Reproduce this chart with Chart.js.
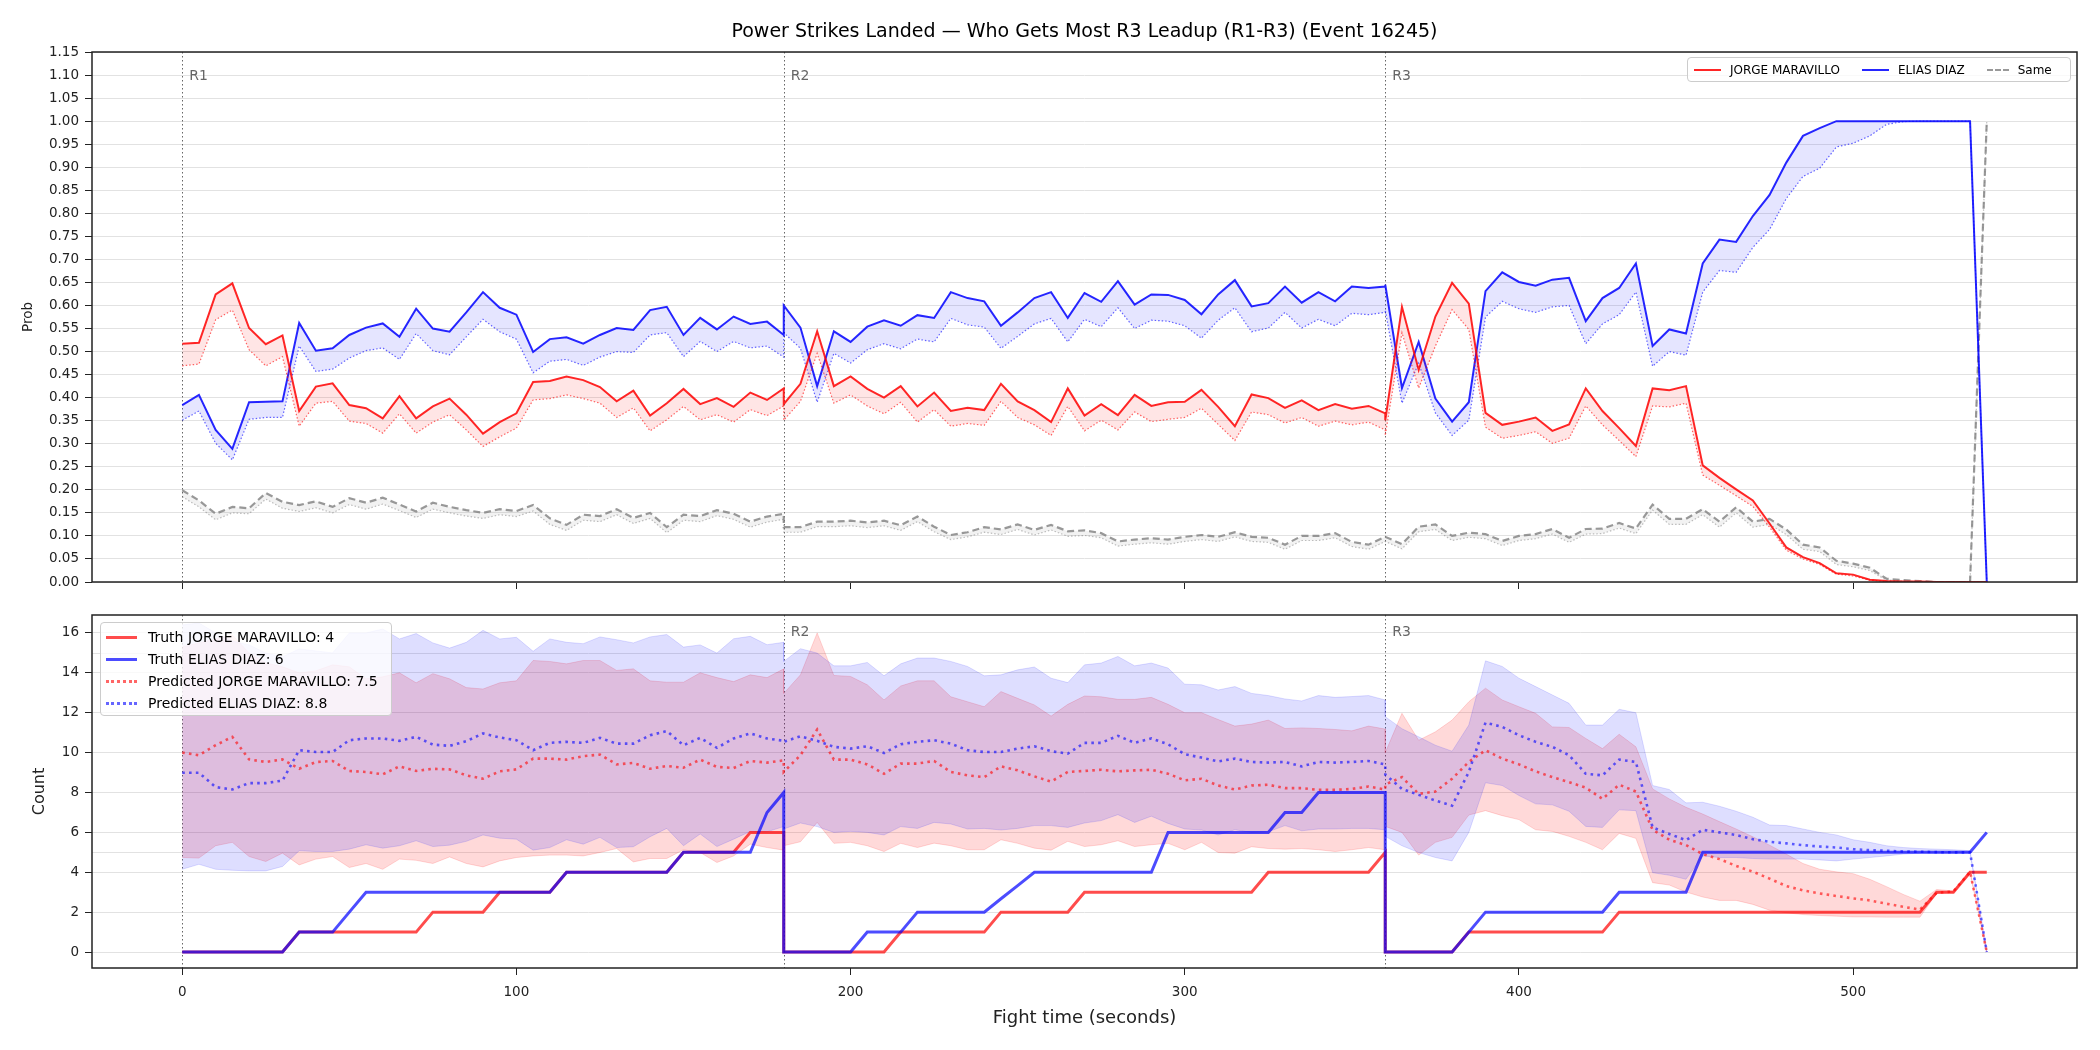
<!DOCTYPE html>
<html>
<head>
<meta charset="utf-8">
<script src="https://cdn.jsdelivr.net/npm/chart.js@4.4.1/dist/chart.umd.min.js"></script>
<style>
body{margin:0;background:#fff;font-family:"DejaVu Sans",sans-serif;}
#wrap{position:relative;width:2100px;height:1050px;overflow:hidden;}
canvas{position:absolute;left:0;}
#title{position:absolute;left:0;width:2169px;top:20px;text-align:center;font-size:19px;line-height:21px;color:#000;}
.legend{position:absolute;background:rgba(255,255,255,0.8);border:1px solid #ccc;border-radius:4px;box-sizing:border-box;color:#000;}
#topLegend{left:1687px;top:57px;width:384px;height:25px;font-size:12px;display:flex;align-items:center;padding-left:6px;}
#topLegend .item{display:flex;align-items:center;margin-right:22px;}
#topLegend .item:last-child{margin-right:0;}
#topLegend .sw{width:27px;height:0;margin-right:9px;}
#botLegend{left:100px;top:622px;width:292px;height:94px;font-size:14px;padding:3px 0 0 5px;}
#botLegend .item{display:flex;align-items:center;height:22px;}
#botLegend .sw{width:31px;height:0;margin-right:11px;}
</style>
</head>
<body>
<div id="wrap">
<canvas id="probChart" width="2100" height="600" style="top:0"></canvas>
<canvas id="countChart" width="2100" height="450" style="top:600px"></canvas>
<div id="title">Power Strikes Landed — Who Gets Most R3 Leadup (R1-R3) (Event 16245)</div>
<div id="topLegend" class="legend">
<div class="item"><div class="sw" style="border-top:2px solid rgba(255,0,0,0.85)"></div>JORGE MARAVILLO</div>
<div class="item"><div class="sw" style="border-top:2px solid rgba(0,0,255,0.85)"></div>ELIAS DIAZ</div>
<div class="item"><div class="sw" style="width:22px;border-top:2px dashed rgba(128,128,128,0.8)"></div>Same</div>
</div>
<div id="botLegend" class="legend">
<div class="item"><div class="sw" style="border-top:3px solid rgba(255,0,0,0.7)"></div>Truth JORGE MARAVILLO: 4</div>
<div class="item"><div class="sw" style="border-top:3px solid rgba(0,0,255,0.7)"></div>Truth ELIAS DIAZ: 6</div>
<div class="item"><div class="sw" style="border-top:3px dotted rgba(255,0,0,0.6)"></div>Predicted JORGE MARAVILLO: 7.5</div>
<div class="item"><div class="sw" style="border-top:3px dotted rgba(0,0,255,0.6)"></div>Predicted ELIAS DIAZ: 8.8</div>
</div>
</div>
<script>
Chart.defaults.font.family = "'DejaVu Sans', sans-serif";
Chart.defaults.color = "#222";

// fight time, seconds (each round restarts at its boundary)
const times = [
0,5,10,15,20,25,30,35,40,45,50,55,60,65,70,75,80,85,90,95,100,105,110,115,120,125,130,135,140,145,150,155,160,165,170,175,180,
180,185,190,195,200,205,210,215,220,225,230,235,240,245,250,255,260,265,270,275,280,285,290,295,300,305,310,315,320,325,330,335,340,345,350,355,360,
360,365,370,375,380,385,390,395,400,405,410,415,420,425,430,435,440,445,450,455,460,465,470,475,480,485,490,495,500,505,510,515,520,525,530,535,540
];
const roundStarts = [0, 180, 360];
const roundNames = ["R1", "R2", "R3"];
const timeTicks = [0, 100, 200, 300, 400, 500];
const probTicks = [0,0.05,0.1,0.15,0.2,0.25,0.3,0.35,0.4,0.45,0.5,0.55,0.6,0.65,0.7,0.75,0.8,0.85,0.9,0.95,1,1.05,1.1,1.15];
const countTicks = [0,2,4,6,8,10,12,14,16];

// top panel: probabilities
const probRed = [
0.517,0.519,0.624,0.648,0.551,0.516,0.535,0.371,0.424,0.431,0.384,0.377,0.355,0.403,0.355,0.381,0.398,0.363,0.322,0.347,0.366,0.434,0.436,0.446,0.438,0.423,0.392,0.415,0.361,0.388,0.419,0.386,0.399,0.380,0.411,0.395,0.420,
0.386,0.430,0.544,0.425,0.446,0.419,0.400,0.425,0.381,0.411,0.371,0.378,0.373,0.430,0.392,0.373,0.347,0.420,0.361,0.386,0.362,0.406,0.382,0.390,0.391,0.417,0.380,0.338,0.407,0.399,0.378,0.394,0.373,0.386,0.376,0.382,0.366,
0.351,0.597,0.460,0.576,0.649,0.604,0.367,0.341,0.348,0.357,0.328,0.342,0.420,0.371,0.334,0.295,0.420,0.416,0.425,0.253,0.226,0.201,0.177,0.127,0.075,0.054,0.041,0.019,0.016,0.005,0.002,0.001,0.001,0,0,0,0
];
const probRedLow = [
0.469,0.473,0.569,0.590,0.504,0.469,0.489,0.338,0.388,0.392,0.349,0.344,0.323,0.365,0.323,0.347,0.363,0.330,0.294,0.315,0.334,0.395,0.398,0.406,0.398,0.388,0.357,0.378,0.328,0.352,0.381,0.352,0.363,0.347,0.374,0.361,0.382,
0.351,0.392,0.496,0.388,0.406,0.382,0.365,0.390,0.347,0.374,0.338,0.344,0.340,0.392,0.357,0.341,0.318,0.381,0.328,0.351,0.330,0.369,0.348,0.353,0.357,0.377,0.342,0.307,0.369,0.363,0.345,0.357,0.338,0.349,0.341,0.347,0.330,
0.318,0.541,0.421,0.512,0.591,0.548,0.336,0.312,0.318,0.326,0.301,0.312,0.382,0.341,0.307,0.272,0.382,0.380,0.388,0.232,0.210,0.187,0.164,0.119,0.069,0.050,0.038,0.017,0.013,0.004,0.001,0,0,0,0,0,0
];
const probBlue = [
0.384,0.406,0.330,0.289,0.390,0.391,0.392,0.562,0.502,0.507,0.536,0.552,0.561,0.532,0.593,0.550,0.543,0.585,0.629,0.595,0.580,0.499,0.527,0.531,0.517,0.536,0.551,0.547,0.590,0.597,0.536,0.573,0.548,0.576,0.560,0.565,0.536,
0.600,0.552,0.425,0.544,0.521,0.554,0.568,0.556,0.579,0.573,0.629,0.616,0.609,0.556,0.585,0.616,0.629,0.573,0.627,0.608,0.653,0.602,0.624,0.623,0.612,0.581,0.624,0.655,0.598,0.605,0.641,0.606,0.629,0.609,0.641,0.638,0.641,
0.645,0.421,0.521,0.398,0.348,0.390,0.631,0.672,0.651,0.643,0.656,0.660,0.566,0.616,0.638,0.691,0.512,0.548,0.539,0.691,0.743,0.738,0.794,0.840,0.910,0.968,0.985,1,1,1,1,1,1,1,1,1,0
];
const probBlueLow = [
0.351,0.371,0.301,0.265,0.353,0.357,0.357,0.512,0.457,0.462,0.486,0.502,0.508,0.483,0.539,0.502,0.493,0.532,0.570,0.543,0.527,0.454,0.479,0.483,0.470,0.488,0.500,0.498,0.536,0.541,0.489,0.522,0.500,0.522,0.508,0.512,0.488,
0.541,0.507,0.390,0.496,0.475,0.504,0.517,0.506,0.527,0.521,0.572,0.558,0.553,0.507,0.533,0.560,0.572,0.521,0.570,0.554,0.595,0.550,0.568,0.566,0.556,0.529,0.568,0.595,0.543,0.551,0.585,0.551,0.570,0.556,0.583,0.580,0.585,
0.590,0.388,0.475,0.367,0.318,0.351,0.575,0.609,0.593,0.585,0.597,0.600,0.517,0.560,0.580,0.629,0.468,0.500,0.492,0.629,0.676,0.672,0.726,0.765,0.832,0.880,0.898,0.944,0.952,0.968,0.993,0.999,1,1,1,1,0
];
const probSame = [
0.199,0.177,0.148,0.163,0.160,0.193,0.174,0.167,0.175,0.163,0.182,0.172,0.183,0.168,0.153,0.172,0.163,0.156,0.150,0.158,0.154,0.167,0.138,0.124,0.146,0.143,0.158,0.139,0.150,0.119,0.146,0.143,0.156,0.148,0.131,0.142,0.148,
0.119,0.119,0.131,0.131,0.133,0.129,0.133,0.123,0.142,0.120,0.102,0.108,0.119,0.114,0.125,0.113,0.124,0.110,0.112,0.106,0.088,0.092,0.095,0.092,0.098,0.102,0.098,0.108,0.098,0.096,0.081,0.100,0.100,0.106,0.087,0.081,0.098,
0.098,0.082,0.120,0.125,0.100,0.107,0.104,0.089,0.100,0.104,0.115,0.096,0.115,0.116,0.128,0.116,0.168,0.137,0.137,0.158,0.131,0.162,0.131,0.137,0.114,0.081,0.075,0.046,0.040,0.031,0.007,0.004,0.002,0,0,0,1
];
const probSameLow = [
0.185,0.163,0.135,0.150,0.148,0.180,0.160,0.153,0.161,0.150,0.168,0.158,0.169,0.155,0.140,0.158,0.150,0.143,0.138,0.146,0.142,0.154,0.125,0.112,0.134,0.131,0.146,0.127,0.138,0.107,0.134,0.131,0.144,0.136,0.119,0.130,0.136,
0.108,0.108,0.120,0.120,0.122,0.118,0.122,0.112,0.131,0.109,0.092,0.098,0.108,0.103,0.114,0.102,0.113,0.099,0.101,0.096,0.078,0.082,0.085,0.082,0.088,0.092,0.088,0.098,0.088,0.086,0.071,0.090,0.090,0.096,0.077,0.071,0.088,
0.088,0.072,0.109,0.114,0.090,0.097,0.094,0.079,0.090,0.094,0.104,0.086,0.104,0.105,0.117,0.105,0.156,0.125,0.125,0.146,0.119,0.150,0.119,0.125,0.103,0.071,0.066,0.038,0.033,0.025,0.004,0.002,0.001,0,0,0,1
];

// bottom panel: counts
const truthRed = [
0,0,0,0,0,0,0,1,1,1,1,1,1,1,1,2,2,2,2,3,3,3,3,4,4,4,4,4,4,4,5,5,5,5,6,6,6,
0,0,0,0,0,0,0,1,1,1,1,1,1,2,2,2,2,2,3,3,3,3,3,3,3,3,3,3,3,4,4,4,4,4,4,4,5,
0,0,0,0,0,1,1,1,1,1,1,1,1,1,2,2,2,2,2,2,2,2,2,2,2,2,2,2,2,2,2,2,2,3,3,4,4
];
const truthBlue = [
0,0,0,0,0,0,0,1,1,1,2,3,3,3,3,3,3,3,3,3,3,3,3,4,4,4,4,4,4,4,5,5,5,5,5,7,8,
0,0,0,0,0,1,1,1,2,2,2,2,2,2.67,3.33,4,4,4,4,4,4,4,4,6,6,6,6,6,6,6,7,7,8,8,8,8,8,
0,0,0,0,0,1,2,2,2,2,2,2,2,2,3,3,3,3,3,5,5,5,5,5,5,5,5,5,5,5,5,5,5,5,5,5,6
];
const predRed = [
10.0,9.87,10.37,10.79,9.66,9.53,9.66,9.19,9.53,9.58,9.08,9.03,8.91,9.31,9.08,9.19,9.16,8.86,8.69,9.06,9.16,9.70,9.70,9.65,9.82,9.90,9.41,9.48,9.19,9.33,9.24,9.65,9.28,9.23,9.58,9.50,9.61,
9.03,9.87,11.16,9.65,9.65,9.41,8.94,9.45,9.45,9.58,9.03,8.86,8.77,9.31,9.11,8.81,8.55,9.03,9.08,9.14,9.06,9.11,9.14,8.94,8.61,8.69,8.35,8.15,8.35,8.39,8.22,8.22,8.13,8.13,8.18,8.30,8.15,
8.4,8.77,7.93,8.05,8.69,9.53,10.12,9.70,9.41,9.06,8.77,8.52,8.24,7.68,8.39,8.05,6.13,5.63,5.36,4.91,4.66,4.32,4.03,3.68,3.31,3.09,2.94,2.81,2.69,2.59,2.42,2.27,2.13,2.97,3.04,4.02,0
];
const predBlue = [
8.99,8.99,8.27,8.15,8.47,8.47,8.6,10.12,10.03,10.03,10.62,10.71,10.71,10.59,10.79,10.4,10.34,10.57,10.96,10.76,10.62,10.12,10.49,10.54,10.49,10.74,10.45,10.45,10.87,11.08,10.37,10.74,10.24,10.71,10.96,10.71,10.59,
10.54,10.82,10.59,10.29,10.2,10.32,9.98,10.42,10.54,10.62,10.45,10.12,10.03,10.03,10.2,10.32,10.07,9.95,10.49,10.49,10.84,10.49,10.71,10.42,9.92,9.75,9.56,9.7,9.53,9.5,9.53,9.31,9.53,9.5,9.53,9.58,9.41,
8.9,8.18,7.88,7.6,7.34,9.03,11.5,11.29,10.87,10.54,10.29,9.87,8.94,8.86,9.65,9.53,6.25,5.92,5.61,6.13,6.0,5.87,5.66,5.53,5.45,5.36,5.29,5.24,5.16,5.11,5.08,5.04,5.03,5.01,5.0,5.0,0
];
const redHigh = [
15.3,15.5,15.7,15.9,15.0,14.5,14.3,14.0,14.1,14.4,14.3,13.7,13.8,14.0,13.5,13.96,13.7,13.26,13.19,13.5,13.6,14.62,14.57,14.45,14.62,14.62,14.12,14.2,13.6,13.53,13.53,14.0,13.76,13.56,13.9,13.76,14.2,
12.97,13.9,16.0,13.87,13.82,13.4,12.64,13.34,13.6,13.6,12.8,12.55,12.3,13.06,12.72,12.39,11.83,12.42,12.84,12.8,12.67,12.67,12.77,12.42,12.0,12.0,11.66,11.33,11.43,11.63,11.21,11.24,11.21,11.16,11.09,11.33,11.18,
10.0,11.97,10.62,11.04,11.63,12.55,13.23,12.64,12.3,11.97,11.29,11.26,10.71,10.2,10.92,10.29,8.18,7.68,7.26,6.92,6.54,6.17,5.78,5.36,4.91,4.44,4.15,4.02,3.93,3.65,3.28,2.89,2.55,3.14,3.06,4.07,0
];
const redLow = [
4.74,4.71,5.33,5.5,4.79,4.54,4.96,4.37,4.66,4.79,4.24,4.44,4.15,4.66,4.6,4.44,4.77,4.44,4.27,4.57,4.74,4.82,4.86,4.86,4.82,4.99,5.19,4.52,4.69,4.69,5.13,4.99,4.49,4.82,5.41,5.24,5.11,
5.33,5.53,6.5,5.45,5.5,5.33,5.04,5.45,5.24,5.46,5.33,5.13,5.13,5.63,5.45,5.21,5.11,5.55,5.29,5.38,5.58,5.29,5.38,5.45,5.13,5.5,4.99,4.96,5.28,5.19,5.16,5.19,5.13,5.04,5.13,5.24,5.13,
6.3,6.0,4.86,5.5,5.75,6.87,7.09,6.84,6.64,6.13,6.05,5.8,5.5,5.13,5.95,5.7,3.48,3.36,3.01,2.76,2.59,2.59,2.39,2.1,1.97,1.88,1.83,1.8,1.76,1.76,1.75,1.75,1.75,2.94,2.97,3.95,0
];
const blueHigh = [
16.4,16.5,16.0,15.6,15.4,15.0,14.8,15.2,15.1,15.0,16.0,16.0,16.2,15.7,15.97,15.5,15.24,15.53,16.13,15.7,15.78,15.08,15.7,15.53,15.46,15.8,15.66,15.5,15.8,15.92,15.29,15.4,14.99,15.71,15.83,15.41,15.53,
14.57,15.21,14.99,14.35,14.35,14.52,13.85,14.45,14.74,14.74,14.57,14.32,13.85,13.9,14.15,14.29,13.73,13.51,14.4,14.49,14.82,14.35,14.49,14.24,13.43,13.4,13.14,13.31,12.97,12.86,12.69,12.59,12.86,12.77,12.81,12.86,12.64,
11.8,11.2,10.79,10.37,10.07,11.38,14.6,14.32,13.73,13.31,12.89,12.47,11.38,11.38,12.17,12.0,8.35,8.15,7.48,7.51,7.31,7.06,6.76,6.37,6.34,6.17,6.0,5.87,5.63,5.5,5.33,5.24,5.19,5.16,5.13,5.08,0
];
const blueLow = [
4.15,4.4,4.15,4.1,4.07,4.07,4.29,5.08,5.04,5.04,5.16,5.38,5.21,5.33,5.58,5.29,5.36,5.55,5.87,5.71,5.66,5.11,5.24,5.63,5.41,5.75,5.24,5.28,5.78,6.2,5.33,5.92,5.29,5.66,6.05,6.03,6.29,
6.17,6.47,6.29,6.0,6.05,6.0,5.87,6.29,6.2,6.5,6.42,6.17,6.2,6.12,6.2,6.34,6.34,6.25,6.47,6.59,6.89,6.5,6.81,6.45,6.17,6.12,5.87,6.13,6.0,6.03,6.34,6.08,6.17,6.17,6.2,6.2,6.13,
5.8,5.33,4.99,4.74,4.57,6.0,8.49,8.35,7.85,7.43,7.38,7.06,6.3,6.25,7.13,7.09,3.98,3.85,3.65,4.82,4.74,4.74,4.69,4.66,4.66,4.66,4.62,4.57,4.66,4.74,4.82,4.91,4.96,4.96,4.96,4.96,0
];

const pts = ys => times.map((t, i) => ({x: t, y: ys[i]}));

const GRID = "#e2e2e2";

// round markers, frame and optional extra reference lines
const roundPlugin = {
  id: "rounds",
  beforeDatasetsDraw(chart, args, opts) {
    const {ctx, chartArea: a, scales: {x, y}} = chart;
    ctx.save();
    ctx.lineWidth = 1;
    ctx.strokeStyle = GRID;
    (opts.extra || []).forEach(v => {
      const py = Math.round(y.getPixelForValue(v)) + 0.5;
      ctx.beginPath(); ctx.moveTo(a.left, py); ctx.lineTo(a.right, py); ctx.stroke();
    });
    ctx.strokeStyle = "#666";
    ctx.setLineDash([1.5, 2.5]);
    roundStarts.forEach(r => {
      const px = Math.round(x.getPixelForValue(r)) + 0.5;
      ctx.beginPath(); ctx.moveTo(px, a.top); ctx.lineTo(px, a.bottom); ctx.stroke();
    });
    ctx.restore();
  },
  afterDraw(chart, args, opts) {
    const {ctx, chartArea: a, scales: {x}} = chart;
    ctx.save();
    ctx.fillStyle = "#666";
    ctx.font = "14px 'DejaVu Sans'";
    ctx.textBaseline = "top";
    roundStarts.forEach((r, i) => {
      if (opts.skip && opts.skip.includes(i)) return;
      ctx.fillText(roundNames[i], x.getPixelForValue(r) + 7, a.top + opts.labelY);
    });
    ctx.strokeStyle = "#222";
    ctx.lineWidth = 1.5;
    ctx.strokeRect(a.left, a.top, a.right - a.left, a.bottom - a.top);
    ctx.restore();
  }
};

const xBase = {
  type: "linear",
  min: -27,
  max: 567,
  afterBuildTicks: s => { s.ticks = timeTicks.map(v => ({value: v})); },
  border: {display: false}
};

new Chart(document.getElementById("probChart"), {
  type: "line",
  data: {
    datasets: [
      {data: pts(probRed), borderColor: "rgba(255,0,0,0.85)", borderWidth: 2, fill: false},
      {data: pts(probRedLow), borderColor: "rgba(255,0,0,0.6)", borderWidth: 1.2, borderDash: [1.5, 2], fill: "-1", backgroundColor: "rgba(255,0,0,0.1)"},
      {data: pts(probBlue), borderColor: "rgba(0,0,255,0.85)", borderWidth: 2, fill: false},
      {data: pts(probBlueLow), borderColor: "rgba(0,0,255,0.6)", borderWidth: 1.2, borderDash: [1.5, 2], fill: "-1", backgroundColor: "rgba(0,0,255,0.1)"},
      {data: pts(probSame), borderColor: "rgba(128,128,128,0.8)", borderWidth: 2.2, borderDash: [7, 4], fill: false},
      {data: pts(probSameLow), borderColor: "rgba(128,128,128,0.5)", borderWidth: 1.2, borderDash: [1.5, 2], fill: "-1", backgroundColor: "rgba(128,128,128,0.1)"}
    ]
  },
  options: {
    responsive: false,
    animation: false,
    devicePixelRatio: 1,
    elements: {point: {radius: 0}, line: {tension: 0}},
    layout: {padding: {left: 0, right: 23, top: 52, bottom: 0}},
    plugins: {legend: {display: false}, tooltip: {enabled: false}, rounds: {labelY: 17}},
    scales: {
      x: Object.assign({}, xBase, {
        grid: {drawOnChartArea: false, tickColor: "#222", tickLength: 7},
        ticks: {callback: () => "", autoSkip: false},
        afterFit: s => { s.height = 18; }
      }),
      y: {
        min: 0, max: 1.15,
        afterBuildTicks: s => { s.ticks = probTicks.map(v => ({value: v})); },
        afterFit: s => { s.width = 92; },
        border: {display: false},
        grid: {color: GRID, tickColor: "#222", tickLength: 7},
        ticks: {font: {size: 13.5}, padding: 6, autoSkip: false, callback: v => v.toFixed(2)},
        title: {display: true, text: "Prob", font: {size: 13.5}, padding: {top: 20, bottom: 0}}
      }
    }
  },
  plugins: [roundPlugin]
});

new Chart(document.getElementById("countChart"), {
  type: "line",
  data: {
    datasets: [
      {data: pts(redHigh), borderColor: "rgba(255,0,0,0.15)", borderWidth: 1, fill: false, order: 10},
      {data: pts(redLow), borderColor: "rgba(255,0,0,0.15)", borderWidth: 1, fill: 0, backgroundColor: "rgba(255,0,0,0.15)", order: 9},
      {data: pts(blueHigh), borderColor: "rgba(0,0,255,0.13)", borderWidth: 1, fill: false, order: 8},
      {data: pts(blueLow), borderColor: "rgba(0,0,255,0.13)", borderWidth: 1, fill: 2, backgroundColor: "rgba(0,0,255,0.13)", order: 7},
      {data: pts(predRed), borderColor: "rgba(255,0,0,0.6)", borderWidth: 2.6, borderDash: [2.6, 4.2], fill: false, order: 4},
      {data: pts(predBlue), borderColor: "rgba(0,0,255,0.6)", borderWidth: 2.6, borderDash: [2.6, 4.2], fill: false, order: 3},
      {data: pts(truthRed), borderColor: "rgba(255,0,0,0.7)", borderWidth: 3, fill: false, order: 2},
      {data: pts(truthBlue), borderColor: "rgba(0,0,255,0.7)", borderWidth: 3, fill: false, order: 1}
    ]
  },
  options: {
    responsive: false,
    animation: false,
    devicePixelRatio: 1,
    elements: {point: {radius: 0}, line: {tension: 0}},
    layout: {padding: {left: 0, right: 23, top: 15, bottom: 0}},
    plugins: {legend: {display: false}, tooltip: {enabled: false}, rounds: {labelY: 10, extra: [5, 15], skip: [0]}},
    scales: {
      x: Object.assign({}, xBase, {
        grid: {drawOnChartArea: false, tickColor: "#222", tickLength: 7},
        ticks: {font: {size: 13.5}, padding: 9, autoSkip: false, maxRotation: 0},
        afterFit: s => { s.height = 82; },
        title: {display: true, text: "Fight time (seconds)", font: {size: 18}, padding: {top: 0, bottom: 21}}
      }),
      y: {
        min: -0.8, max: 16.9,
        afterBuildTicks: s => { s.ticks = countTicks.map(v => ({value: v})); },
        afterFit: s => { s.width = 92; },
        border: {display: false},
        grid: {color: GRID, tickColor: "#222", tickLength: 7},
        ticks: {font: {size: 13.5}, padding: 6, autoSkip: false},
        title: {display: true, text: "Count", font: {size: 16}, padding: {top: 30, bottom: 0}}
      }
    }
  },
  plugins: [roundPlugin]
});
</script>
</body>
</html>
